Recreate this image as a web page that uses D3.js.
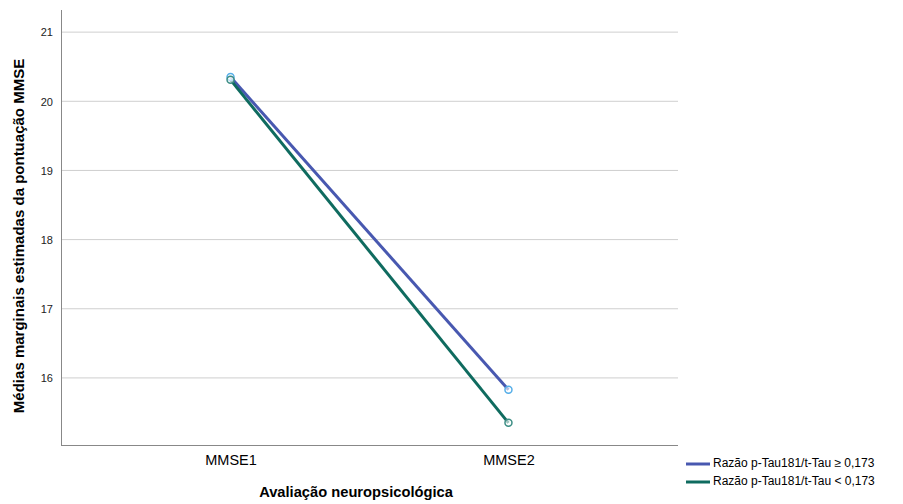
<!DOCTYPE html>
<html>
<head>
<meta charset="utf-8">
<script src="https://cdn.jsdelivr.net/npm/d3@7"></script>
<style>
  body { margin: 0; background: #fff; }
  text { font-family: "Liberation Sans", Arial, sans-serif; fill: #000; }
</style>
</head>
<body>
<script>
// data
let categories = ["MMSE1", "MMSE2"];
let seriesNames = ["Razão p-Tau181/t-Tau ≥ 0,173", "Razão p-Tau181/t-Tau < 0,173"];
let highRatio = [20.35, 15.83];
let lowRatio = [20.31, 15.35];
let yTicks = [16, 17, 18, 19, 20, 21];

let lineColors = ["#4858b0", "#0f6b5f"];
let markerColors = ["#55aee8", "#3b8d84"];

let width = 903, height = 504;
let plot = { left: 61, right: 678, top: 10, bottom: 445 };

let svg = d3.select("body").append("svg")
  .attr("width", width)
  .attr("height", height);

let x = d3.scalePoint()
  .domain(categories)
  .range([plot.left, plot.right])
  .padding(0.61);

let y = d3.scaleLinear()
  .domain([15.03, 21.32])
  .range([plot.bottom, plot.top]);

// gridlines
svg.append("g")
  .selectAll("line")
  .data(yTicks)
  .enter().append("line")
    .attr("x1", plot.left)
    .attr("x2", plot.right)
    .attr("y1", d => y(d))
    .attr("y2", d => y(d))
    .style("stroke", "#cfcfcf")
    .style("stroke-width", 1);

// y axis
let yAxis = svg.append("g")
  .attr("transform", "translate(" + plot.left + ",0)")
  .call(d3.axisLeft(y).tickValues(yTicks).tickFormat(d3.format("d")).tickSize(0).tickPadding(8));
yAxis.select(".domain").attr("d", "M0.5," + plot.top + "V" + plot.bottom).style("stroke", "#888");
yAxis.selectAll("text").style("font-size", "11px").style("fill", "#222").attr("dy", "0.35em");

// x axis
let xAxis = svg.append("g")
  .attr("transform", "translate(0," + plot.bottom + ")")
  .call(d3.axisBottom(x).tickSize(0).tickPadding(10));
xAxis.select(".domain").attr("d", "M" + plot.left + ",0.5H" + plot.right).style("stroke", "#888");
xAxis.selectAll("text").style("font-size", "14.5px").style("fill", "#000");

// axis titles
svg.append("text")
  .attr("x", 356)
  .attr("y", 497)
  .attr("text-anchor", "middle")
  .style("font-size", "14.7px")
  .style("font-weight", "bold")
  .text("Avaliação neuropsicológica");

svg.append("text")
  .attr("transform", "translate(24,236) rotate(-90)")
  .attr("text-anchor", "middle")
  .style("font-size", "15px")
  .style("font-weight", "bold")
  .text("Médias marginais estimadas da pontuação MMSE");

// lines and markers
let series = [highRatio, lowRatio];
let line = d3.line()
  .x((d, i) => x(categories[i]))
  .y(d => y(d));

series.forEach(function(vals, s) {
  svg.append("path")
    .datum(vals)
    .attr("d", line)
    .style("fill", "none")
    .style("stroke", lineColors[s])
    .style("stroke-width", 3);
});

series.forEach(function(vals, s) {
  svg.append("g")
    .selectAll("circle")
    .data(vals)
    .enter().append("circle")
      .attr("cx", (d, i) => x(categories[i]))
      .attr("cy", d => y(d))
      .attr("r", 3.5)
      .style("fill", "#fff")
      .style("fill-opacity", 0.6)
      .style("stroke", markerColors[s])
      .style("stroke-width", 1.5);
});

// legend
let legend = svg.append("g").attr("transform", "translate(686,463)");
seriesNames.forEach(function(name, s) {
  let g = legend.append("g").attr("transform", "translate(0," + (s * 18) + ")");
  g.append("line")
    .attr("x1", 0).attr("x2", 24)
    .attr("y1", 1).attr("y2", 1)
    .style("stroke", lineColors[s])
    .style("stroke-width", 3);
  g.append("text")
    .attr("x", 27)
    .attr("y", 0)
    .attr("dy", "0.35em")
    .style("font-size", "12px")
    .text(name);
});
</script>
</body>
</html>
